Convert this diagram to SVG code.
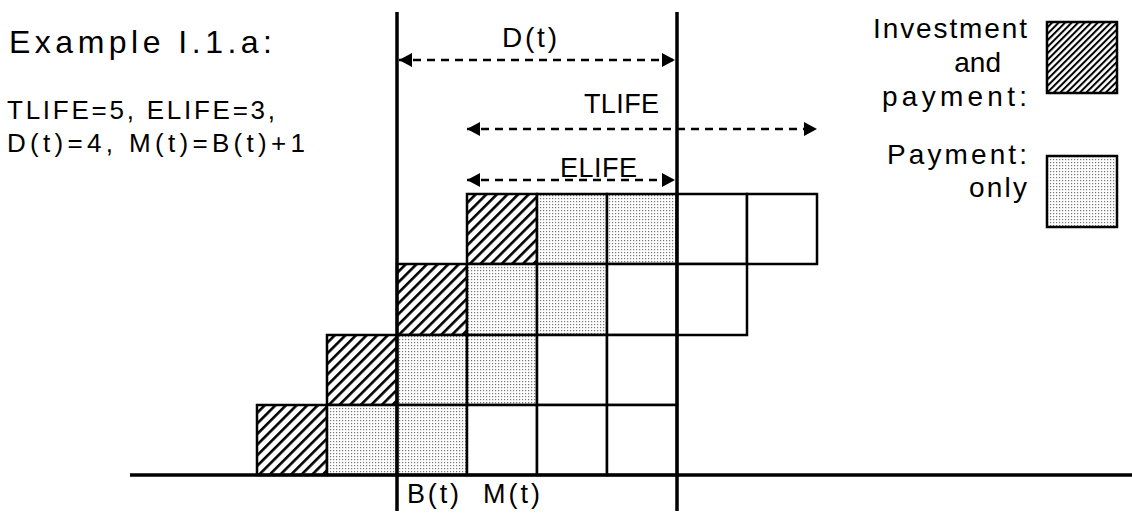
<svg xmlns="http://www.w3.org/2000/svg" width="1132" height="523" viewBox="0 0 1132 523">
<style>
text{font-family:"Liberation Sans",Arial,sans-serif;fill:#000}
.cell{stroke:#000;stroke-width:2.5}
.h{fill:url(#hatch)}
.d{fill:url(#dots)}
.w{fill:#fff}
.main{stroke:#000;stroke-width:3.5;fill:none}
.dash{stroke:#000;stroke-width:2.5;stroke-dasharray:8 6;fill:none;marker-start:url(#ah);marker-end:url(#ah)}
</style>
<defs>
<pattern id="hatch" patternUnits="userSpaceOnUse" width="7.5" height="7.5" patternTransform="rotate(45)">
<rect width="7.5" height="7.5" fill="#fff"/>
<rect x="0" y="0" width="2.6" height="7.5" fill="#000"/>
</pattern>
<pattern id="hatch2" patternUnits="userSpaceOnUse" width="4.6" height="4.6" patternTransform="rotate(45)">
<rect width="4.6" height="4.6" fill="#fff"/>
<rect x="0" y="0" width="2" height="4.6" fill="#000"/>
</pattern>
<pattern id="dots" patternUnits="userSpaceOnUse" width="3" height="3">
<rect width="3" height="3" fill="#fff"/>
<rect x="0" y="0" width="1.2" height="1.2" fill="#777"/>
</pattern>
<marker id="ah" markerUnits="userSpaceOnUse" markerWidth="14" markerHeight="14" refX="13" refY="7" orient="auto-start-reverse">
<path d="M0,0 L13,7 L0,14 Z" fill="#000"/>
</marker>
</defs>

<g id="title">
<text x="9" y="53" font-size="32" textLength="263" lengthAdjust="spacing">Example I.1.a:</text>
<text x="7" y="119" font-size="26" textLength="268" lengthAdjust="spacing">TLIFE=5, ELIFE=3,</text>
<text x="7" y="152" font-size="26" textLength="298" lengthAdjust="spacing">D(t)=4, M(t)=B(t)+1</text>
</g>

<g id="row1">
<rect class="cell h" x="467" y="194" width="70" height="70"/>
<rect class="cell d" x="537" y="194" width="70" height="70"/>
<rect class="cell d" x="607" y="194" width="70" height="70"/>
<rect class="cell w" x="677" y="194" width="70" height="70"/>
<rect class="cell w" x="747" y="194" width="70" height="70"/>
</g>
<g id="row2">
<rect class="cell h" x="397" y="264" width="70" height="71"/>
<rect class="cell d" x="467" y="264" width="70" height="71"/>
<rect class="cell d" x="537" y="264" width="70" height="71"/>
<rect class="cell w" x="607" y="264" width="70" height="71"/>
<rect class="cell w" x="677" y="264" width="70" height="71"/>
</g>
<g id="row3">
<rect class="cell h" x="327" y="335" width="70" height="70"/>
<rect class="cell d" x="397" y="335" width="70" height="70"/>
<rect class="cell d" x="467" y="335" width="70" height="70"/>
<rect class="cell w" x="537" y="335" width="70" height="70"/>
<rect class="cell w" x="607" y="335" width="70" height="70"/>
</g>
<g id="row4">
<rect class="cell h" x="257" y="405" width="70" height="70"/>
<rect class="cell d" x="327" y="405" width="70" height="70"/>
<rect class="cell d" x="397" y="405" width="70" height="70"/>
<rect class="cell w" x="467" y="405" width="70" height="70"/>
<rect class="cell w" x="537" y="405" width="70" height="70"/>
<rect class="cell w" x="607" y="405" width="70" height="70"/>
</g>

<g id="axes">
<line class="main" x1="130" y1="475" x2="1132" y2="475"/>
<line class="main" x1="397" y1="12" x2="397" y2="511"/>
<line class="main" x1="677" y1="12" x2="677" y2="511"/>
</g>

<g id="connectors">
<line class="dash" x1="399" y1="60" x2="675" y2="60"/>
<line class="dash" x1="467" y1="129" x2="817" y2="129"/>
<line class="dash" x1="467" y1="180" x2="675" y2="180"/>
</g>

<g id="labels">
<text x="502" y="47" font-size="28" textLength="55" lengthAdjust="spacing">D(t)</text>
<text x="584" y="113" font-size="27" textLength="75" lengthAdjust="spacing">TLIFE</text>
<text x="560" y="177" font-size="27" textLength="77" lengthAdjust="spacing">ELIFE</text>
<text x="407" y="503" font-size="27" textLength="52" lengthAdjust="spacing">B(t)</text>
<text x="483" y="503" font-size="27" textLength="57" lengthAdjust="spacing">M(t)</text>
</g>

<g id="legend-invest">
<text x="1027" y="38" font-size="28" text-anchor="end" textLength="154" lengthAdjust="spacing">Investment</text>
<text x="1001" y="72" font-size="28" text-anchor="end">and</text>
<text x="1027" y="106" font-size="28" text-anchor="end" textLength="145" lengthAdjust="spacing">payment:</text>
<rect x="1047" y="22" width="70" height="71" fill="url(#hatch2)" stroke="#000" stroke-width="2.5"/>
</g>
<g id="legend-pay">
<text x="1027" y="164" font-size="28" text-anchor="end" textLength="140" lengthAdjust="spacing">Payment:</text>
<text x="1027" y="197" font-size="28" text-anchor="end" textLength="58" lengthAdjust="spacing">only</text>
<rect x="1047" y="156" width="70" height="71" fill="url(#dots)" stroke="#000" stroke-width="2.5"/>
</g>
</svg>
